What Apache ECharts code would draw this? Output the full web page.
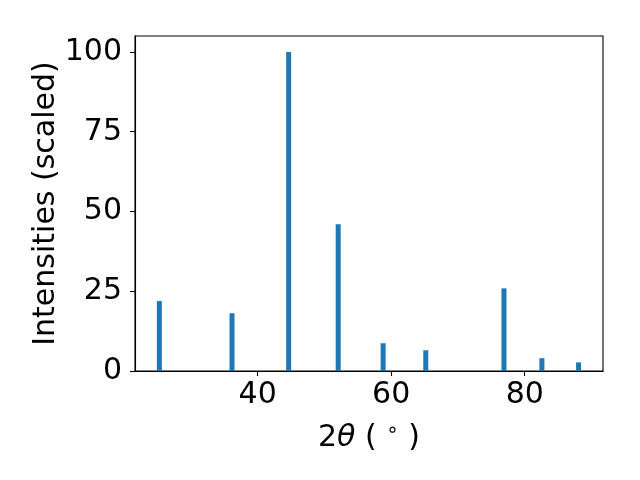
<!DOCTYPE html>
<html>
<head>
<meta charset="utf-8">
<script src="https://cdn.jsdelivr.net/npm/echarts@6/dist/echarts.min.js"></script>
<style>html,body{margin:0;padding:0;background:#fff}#c{width:640px;height:480px}</style>
</head>
<body>
<div id="c"></div>
<script>
const twoTheta = [25.28, 36.16, 44.64, 52.06, 58.79, 65.18, 76.89, 82.57, 88.06];
const intensities = [21.9, 18.1, 100, 46.0, 8.7, 6.5, 25.9, 4.0, 2.7];
const xTicks = [40, 60, 80];
const yTicks = [0, 25, 50, 75, 100];

const chart = echarts.init(document.getElementById('c'), null, {renderer: 'canvas'});
const font = 'DejaVu Sans';
const fs = 30;
chart.setOption({
  animation: false,
  backgroundColor: '#ffffff',
  grid: {left: 135, right: 37, top: 36, bottom: 109, show: true, borderColor: '#000', borderWidth: 1.1, backgroundColor: 'transparent'},
  xAxis: {
    type: 'value', min: 21.63, max: 91.72, interval: 20,
    splitLine: {show: false},
    axisLine: {show: true, onZero: false, lineStyle: {color: '#000', width: 1.1}},
    axisTick: {show: true, inside: false, length: 5, lineStyle: {color: '#000', width: 1.1}, customValues: xTicks},
    axisLabel: {fontFamily: font, fontSize: fs, color: '#000', margin: 9, customValues: xTicks, formatter: v => String(v)},
    name: '{n|2}{i|θ}{n| ( }{s|∘}{n| )}',
    nameLocation: 'middle', nameGap: 50, nameMoveOverlap: false,
    nameTextStyle: {
      rich: {
        n: {fontFamily: font, fontSize: fs, color: '#000'},
        i: {fontFamily: font, fontSize: fs, fontStyle: 'italic', color: '#000'},
        s: {fontFamily: font, fontSize: 20, color: '#000', verticalAlign: 'top', padding: [0, 0, 14, 0]}
      }
    }
  },
  yAxis: {
    type: 'value', min: 0, max: 105,
    splitLine: {show: false},
    axisLine: {show: true, lineStyle: {color: '#000', width: 1.1}},
    axisTick: {show: true, inside: false, length: 5, lineStyle: {color: '#000', width: 1.1}, customValues: yTicks},
    axisLabel: {fontFamily: font, fontSize: fs, color: '#000', margin: 13, customValues: yTicks, formatter: v => String(v)},
    name: 'Intensities (scaled)',
    nameLocation: 'middle', nameGap: 74, nameMoveOverlap: false,
    nameTextStyle: {fontFamily: font, fontSize: fs, color: '#000'}
  },
  series: [{
    type: 'bar',
    data: twoTheta.map((x, i) => [x, intensities[i]]),
    barWidth: 5,
    itemStyle: {color: '#1f77b4'}
  }]
});
</script>
</body>
</html>
